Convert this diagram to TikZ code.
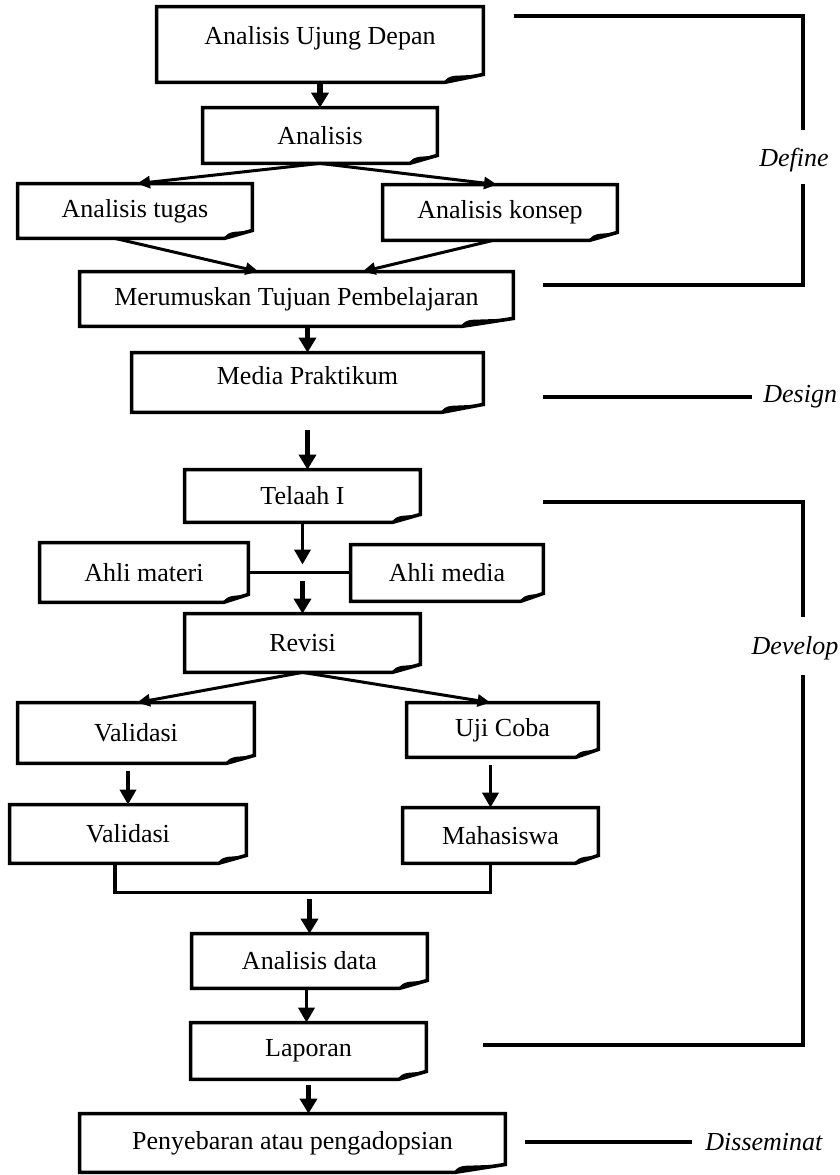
\documentclass[tikz,border=0pt]{standalone}
\usepackage{fontspec}
\setmainfont{Liberation Serif}
\usepackage{tikz}
\usetikzlibrary{arrows.meta, calc}
\tikzset{>=latex}

\begin{document}
\begin{tikzpicture}[x=0.5pt, y=-0.5pt,
                    line cap=butt, line join=miter,
                    docbox/.style={inner sep=0pt, font=\fontsize{13}{15}\selectfont},
                    docline/.style={black, line width=1.8pt},
                    line/.style={black, line width=1.7pt},
                    arrbig/.style={line width=2.8pt, -{Triangle[length=7.5pt,width=8.5pt]}},
                    arrmid/.style={line width=1.8pt, -{Triangle[length=7.5pt,width=8pt]}},
                    arrthin/.style={line width=1.5pt, -{Triangle[length=6.5pt,width=6pt]}},
                    phase/.style={black, line width=1.6pt},
                    phaselabel/.style={font=\fontsize{13}{15}\selectfont\itshape, inner sep=0pt}]
  \useasboundingbox (0,0) rectangle (840,1175);

  \def\drawDoc#1{ % outline with the folded corner at bottom right
    \draw[docline] (#1.south west) -- (#1.north west) -- (#1.north east)
      -- ([yshift=4pt]#1.south east) -- ($(#1.south west)!0.88!(#1.south east)$) -- cycle;
    \fill ($(#1.south west)!0.88!(#1.south east)$) to[out=70,in=190] ++(5pt,3.3pt)
      -- ([yshift=4pt]#1.south east) -- cycle;
  }

  % define
  \node[docbox, minimum width=163pt, minimum height=37.5pt, text depth=9pt] (ujung) at (320,44.5) {Analisis Ujung Depan};
  \node[docbox, minimum width=117pt, minimum height=27.5pt] (analisis) at (320,135.5) {Analisis};
  \node[docbox, minimum width=117pt, minimum height=27pt] (tugas) at (135,211) {Analisis tugas};
  \node[docbox, minimum width=117pt, minimum height=27.5pt] (konsep) at (500,212.5) {Analisis konsep};
  \node[docbox, minimum width=216.5pt, minimum height=27pt] (tujuan) at (296.5,299) {Merumuskan Tujuan Pembelajaran};
  % design
  \node[docbox, minimum width=175.5pt, minimum height=29.5pt, text depth=7pt] (media) at (307.5,382.5) {Media Praktikum};
  % develop
  \node[docbox, minimum width=117.5pt, minimum height=26pt] (telaah) at (302.5,496) {Telaah I};
  \node[docbox, minimum width=104pt, minimum height=29.5pt] (materi) at (144,572.5) {Ahli materi};
  \node[docbox, minimum width=96pt, minimum height=28pt] (ahlimedia) at (447,573) {Ahli media};
  \node[docbox, minimum width=117.5pt, minimum height=29pt] (revisi) at (302.5,643) {Revisi};
  \node[docbox, minimum width=118pt, minimum height=30pt] (valid1) at (136,733) {Validasi};
  \node[docbox, minimum width=95.5pt, minimum height=27pt] (ujicoba) at (502.5,730) {Uji Coba};
  \node[docbox, minimum width=118pt, minimum height=29pt] (valid2) at (128,834) {Validasi};
  \node[docbox, minimum width=97.5pt, minimum height=27.5pt] (mhs) at (500.5,835.5) {Mahasiswa};
  \node[docbox, minimum width=117.5pt, minimum height=27pt] (data) at (309.5,961) {Analisis data};
  \node[docbox, minimum width=117.5pt, minimum height=28pt] (laporan) at (308.5,1051) {Laporan};
  % disseminate
  \node[docbox, minimum width=212.5pt, minimum height=29pt] (sebar) at (292.5,1143) {Penyebaran atau pengadopsian};

  \foreach \n in {ujung,analisis,tugas,konsep,tujuan,media,telaah,materi,ahlimedia,
                  revisi,valid1,ujicoba,valid2,mhs,data,laporan,sebar}{
    \drawDoc{\n}
  }

  % connectors
  \draw[arrbig] (ujung.south) -- (analisis.north);
  \draw[arrthin] (analisis.south) -- ([xshift=1pt]tugas.north);
  \draw[arrthin] (analisis.south) -- ([xshift=-1.5pt]konsep.north);
  \draw[arrthin] ([xshift=-10pt]tugas.south) -- ([xshift=-19pt]tujuan.north);
  \draw[arrthin] ([xshift=-3.5pt]konsep.south) -- ([xshift=33pt]tujuan.north);
  \draw[arrbig] (media.north |- tujuan.south) -- (media.north);
  \draw[arrbig, shorten <=9pt] (media.south) -- (media.south |- telaah.north);

  \coordinate (join) at (telaah.south |- materi.east);
  \draw[arrmid] (telaah.south) -- ([yshift=4pt]join);
  \draw[line] (materi.east) -- (materi.east -| ahlimedia.west);
  \draw[arrbig, shorten <=4pt] (join) -- (revisi.north);

  \draw[arrthin] (revisi.south) -- ([xshift=0.5pt]valid1.north);
  \draw[arrthin] (revisi.south) -- ([xshift=-6pt]ujicoba.north);
  \draw[arrmid, shorten <=4pt] (valid2.north |- valid1.south) -- (valid2.north);
  \draw[arrmid, shorten <=4pt] ([xshift=-6pt]ujicoba.south) -- ([xshift=-6pt]ujicoba.south |- mhs.north);

  \draw[line] ([xshift=-6.5pt]valid2.south) -- ++(0,-14.5pt) coordinate (merge) -| ([xshift=-5pt]mhs.south);
  \draw[arrbig, shorten <=3.5pt] (merge -| data.north) -- (data.north);
  \draw[arrmid] ([xshift=-1.5pt]data.south) -- ([xshift=-1.5pt]data.south |- laporan.north);
  \draw[arrbig, shorten <=3pt] (laporan.south) -- (laporan.south |- sebar.north);

  % phases
  \node[phaselabel] (define) at (794,160) {Define};
  \draw[phase] (514,16) -- (803,16) -- (803,130);
  \draw[phase] (803,184) -- (803,285) -- (543,285);

  \node[phaselabel, anchor=west] (design) at (763,397) {Design};
  \draw[phase] (543,397) -- ([xshift=-5.5pt]design.west);

  \node[phaselabel] (develop) at (795,648) {Develop};
  \draw[phase] (543,502) -- (803,502) -- (803,617);
  \draw[phase] (803,675) -- (803,1045) -- (483,1045);

  \node[phaselabel, anchor=west] (dissem) at (705,1142) {Disseminat};
  \draw[phase] (525,1142) -- ([xshift=-6.5pt]dissem.west);

\end{tikzpicture}
\end{document}
